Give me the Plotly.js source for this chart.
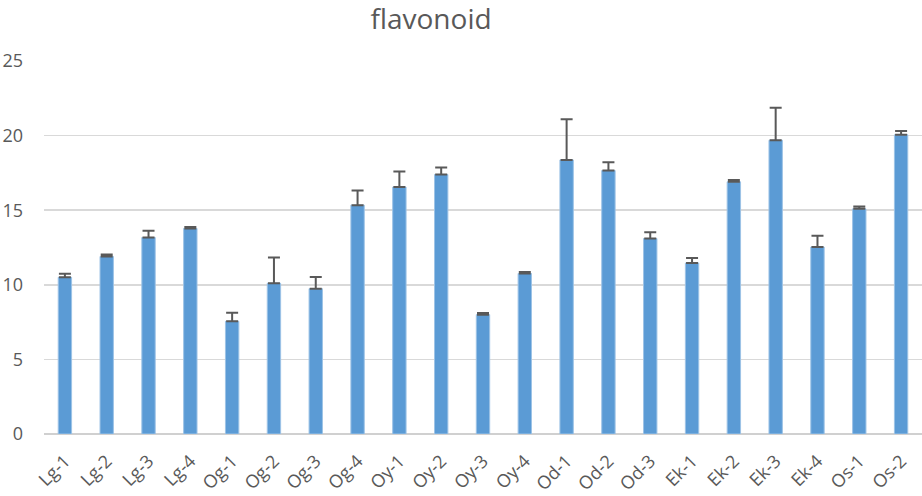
<!DOCTYPE html>
<html><head><meta charset="utf-8">
<script src="https://cdn.plot.ly/plotly-3.0.1.min.js"></script>
<style>html,body{margin:0;padding:0;background:#fff}#chart{width:922px;height:496px}</style>
</head><body><div id="chart"></div>
<script>
const categories = ["Lg-1","Lg-2","Lg-3","Lg-4","Og-1","Og-2","Og-3","Og-4","Oy-1","Oy-2","Oy-3","Oy-4","Od-1","Od-2","Od-3","Ek-1","Ek-2","Ek-3","Ek-4","Os-1","Os-2"];
const flavonoid = [10.5,11.9,13.17,13.78,7.55,10.1,9.74,15.34,16.55,17.39,8.0,10.76,18.37,17.66,13.1,11.46,16.9,19.69,12.53,15.09,20.05];
const errUp = [0.24,0.13,0.45,0.09,0.58,1.73,0.78,0.98,1.04,0.47,0.11,0.1,2.73,0.56,0.43,0.33,0.13,2.18,0.76,0.16,0.26];
const yTicks = [0,5,10,15,20,25];

const font = "Open Sans, Liberation Sans, sans-serif";
Plotly.newPlot('chart', [{
  type: 'bar', x: categories, y: flavonoid,
  marker: {color: '#5B9BD5', line: {color: '#9DC3E6', width: 1}},
  error_y: {type: 'data', array: errUp, symmetric: false, arrayminus: errUp.map(()=>0), color: '#595959', thickness: 2, width: 6},
  hoverinfo: 'none'
}], {
  width: 922, height: 496,
  margin: {l: 44, r: 0, t: 61, b: 61.5, pad: 0},
  paper_bgcolor: '#fff', plot_bgcolor: '#fff',
  bargap: 0.68,
  showlegend: false,
  title: {text: 'flavonoid', x: 0.4675, xref: 'container', xanchor: 'center', y: 0.962, yref: 'container', yanchor: 'middle',
          font: {family: font, size: 28, color: '#595959'}},
  xaxis: {type: 'category', tickangle: -45, tickfont: {family: font, size: 18, color: '#595959'},
          showgrid: false, showline: false, zeroline: false, ticks: '', ticklabelstandoff: 12, fixedrange: true},
  yaxis: {range: [0, 25], tickvals: yTicks, ticktext: yTicks.map(String),
          tickfont: {family: font, size: 18, color: '#595959'},
          showgrid: true, gridcolor: '#D9D9D9', gridwidth: 1.5,
          zeroline: true, zerolinecolor: '#D0D0D0', zerolinewidth: 1.5,
          showline: false, ticks: '', ticklabelstandoff: 20, fixedrange: true}
}, {staticPlot: true});
</script></body></html>
